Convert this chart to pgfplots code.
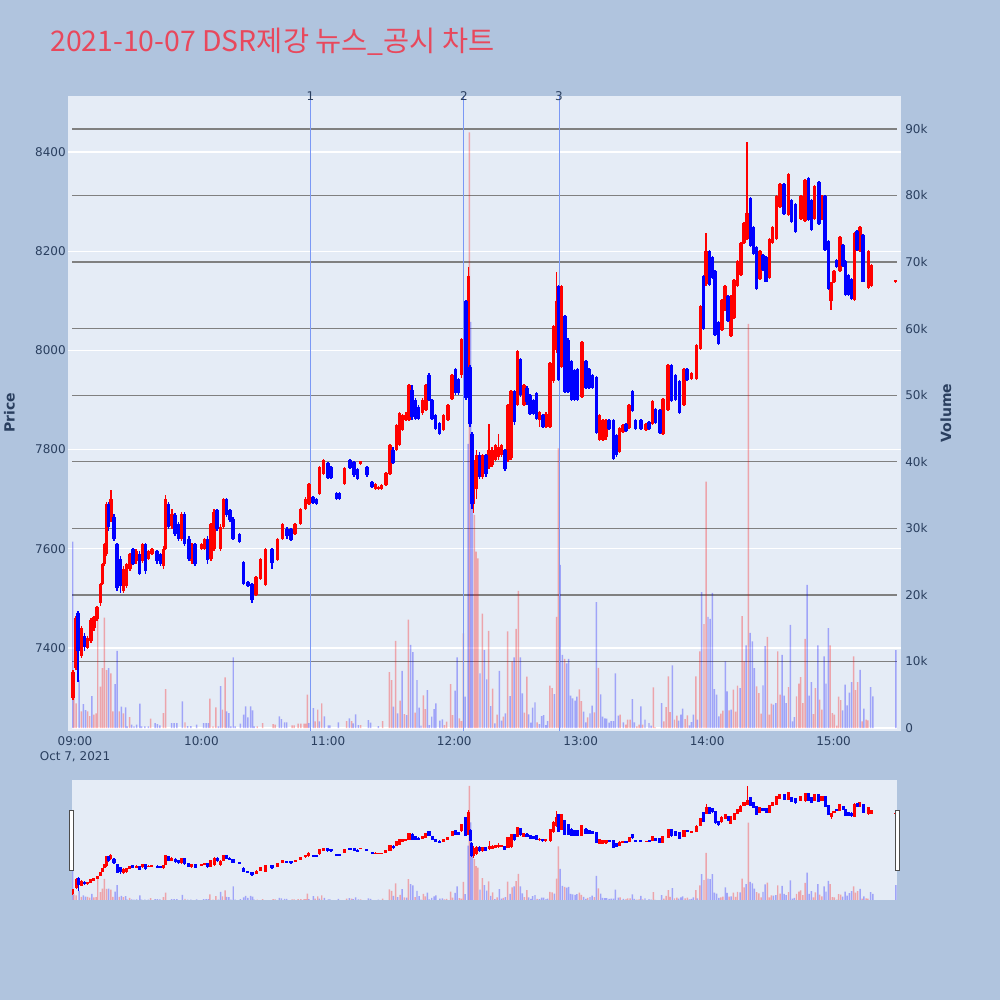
\documentclass[border=0pt]{standalone}
\usepackage{fontspec}
\setmainfont{DejaVu Sans}
\newfontfamily\krfont{Noto Sans CJK KR}
\usepackage{pgfplots}
\usepackage{pgfplotstable}
\pgfplotsset{compat=1.18}

\definecolor{bgc}{HTML}{B0C4DE}
\definecolor{plotbg}{HTML}{E5ECF6}
\definecolor{txt}{HTML}{2A3F5F}
\definecolor{gridg}{HTML}{808080}
\definecolor{ttl}{HTML}{E8485C}
\definecolor{evt}{HTML}{7A98F5}
\definecolor{upc}{HTML}{FF0000}
\definecolor{dnc}{HTML}{0000FF}

\newcommand\tickfont{\fontsize{9}{11.25}\selectfont}

% candles: #1 table, #2 colour, #3 body width, #4 wick width
\newcommand\candleset[4]{%
  \addplot[draw=none, forget plot, error bars/.cd, y dir=both, y explicit, error mark=none,
    error bar style={draw=#2, line width=#4}]
    table[x=t, y expr={(\thisrow{h}+\thisrow{l})/2}, y error expr={(\thisrow{h}-\thisrow{l})/2}] {#1};
  \addplot[draw=none, forget plot, error bars/.cd, y dir=both, y explicit, error mark=none,
    error bar style={draw=#2, line width=#3}]
    table[x=t, y expr={(\thisrow{o}+\thisrow{c})/2}, y error expr={abs(\thisrow{c}-\thisrow{o})/2}] {#1};
}

% minutes after 09:00, open high low close
\pgfplotstableread{
t o h l c
-1 7300 7355 7295 7352
0.5 7360 7465 7355 7460
3 7385 7445 7380 7440
6 7400 7425 7398 7420
7.5 7415 7460 7410 7456
9 7440 7465 7435 7462
10.5 7458 7485 7455 7483
12 7490 7532 7485 7530
13 7530 7572 7528 7570
14 7570 7612 7565 7610
15 7590 7695 7585 7690
17 7660 7718 7655 7700
23 7515 7565 7510 7560
24.5 7525 7572 7520 7570
26 7560 7592 7555 7590
29 7575 7600 7570 7595
32 7575 7612 7572 7610
35 7580 7598 7578 7595
36.5 7590 7602 7588 7600
42 7565 7605 7560 7600
43 7600 7708 7598 7700
46 7645 7680 7640 7670
50.5 7620 7675 7615 7670
55.5 7575 7612 7570 7610
60 7600 7612 7598 7610
61.5 7600 7622 7598 7620
64.5 7580 7652 7575 7650
66 7600 7680 7595 7675
69 7600 7650 7595 7645
70.5 7645 7702 7640 7700
86 7507 7545 7505 7543
88 7540 7582 7538 7580
90.5 7527 7602 7525 7600
96 7577 7622 7575 7620
98.5 7620 7652 7618 7650
104.5 7630 7652 7628 7650
107 7650 7682 7648 7680
109.5 7680 7705 7678 7700
111 7690 7732 7688 7730
116 7710 7767 7708 7765
118 7750 7782 7748 7780
128 7730 7765 7728 7763
135.5 7771 7777 7770 7777
142.5 7720 7732 7718 7730
144 7720 7726 7718 7724
145.5 7720 7730 7718 7728
147.5 7728 7754 7726 7752
149.5 7750 7812 7748 7810
152.5 7800 7852 7798 7850
154 7810 7875 7808 7873
155.5 7840 7872 7838 7870
157 7860 7875 7858 7870
158.5 7860 7932 7858 7930
165 7873 7905 7870 7900
166.5 7880 7932 7878 7930
175 7840 7872 7838 7870
177 7860 7892 7858 7890
179 7903 7952 7900 7950
183.5 7950 8025 7945 8022
186.7 7914 8169 7910 8150
189.2 7690 7803 7672 7780
190.5 7720 7800 7700 7790
193.5 7745 7792 7740 7790
196.5 7765 7851 7760 7800
198 7770 7805 7765 7800
199.5 7780 7812 7778 7810
201 7785 7831 7780 7805
202.5 7790 7812 7785 7810
205.5 7779 7892 7775 7890
207 7783 7920 7780 7918
210 7890 8000 7888 7998
213 7890 7932 7888 7930
220.5 7860 7878 7845 7875
223.5 7845 7875 7843 7872
225.5 7845 7976 7843 7974
227 7938 8052 7935 8050
228.5 8000 8159 7995 8100
231 7966 8131 7964 8129
240.5 7906 8020 7904 8018
249 7819 7872 7817 7870
250.5 7820 7862 7818 7860
252 7825 7862 7820 7858
258.5 7795 7845 7793 7843
260 7835 7852 7833 7850
263 7843 7892 7841 7890
271 7840 7853 7838 7852
274 7851 7900 7849 7898
279 7831 7904 7829 7902
281.5 7880 7972 7878 7970
289 7890 7964 7888 7962
292.5 7942 7956 7940 7954
295 7942 8012 7940 8010
296.8 8002 8092 8000 8090
299.5 8133 8237 8130 8200
307 8042 8104 8040 8102
308.5 8082 8132 8080 8130
311.3 8030 8112 8028 8110
312.8 8066 8143 8064 8141
314.5 8130 8183 8128 8181
316 8153 8219 8151 8217
317.5 8217 8259 8215 8257
319 8225 8420 8222 8277
325 8145 8203 8143 8201
329.5 8145 8227 8143 8225
331 8217 8251 8215 8249
333 8225 8314 8223 8312
334.5 8289 8338 8287 8336
338.5 8273 8358 8271 8356
344.5 8265 8314 8263 8312
346.5 8261 8346 8259 8344
351 8265 8334 8263 8332
354.5 8265 8314 8263 8312
358.8 8100 8139 8082 8137
360.2 8137 8163 8135 8161
363 8161 8231 8159 8229
370 8102 8239 8100 8237
372.5 8201 8251 8199 8249
376.5 8126 8203 8124 8201
378 8130 8175 8128 8173
389.5 8137 8142 8136 8142
}\upcandles

\pgfplotstableread{
t o h l c
1.5 7470 7475 7332 7395
4.5 7425 7430 7395 7402
16 7690 7695 7635 7645
18.5 7665 7670 7615 7620
20 7610 7612 7515 7520
21.5 7580 7585 7510 7525
27.5 7600 7602 7568 7570
30.5 7590 7595 7548 7550
33.5 7610 7612 7550 7555
39 7595 7598 7570 7575
40.5 7590 7592 7565 7570
44.5 7690 7695 7640 7645
47.5 7668 7672 7625 7630
49 7650 7655 7615 7620
52 7670 7675 7605 7610
54 7620 7625 7575 7580
57 7610 7612 7565 7570
63 7620 7625 7570 7578
67.5 7678 7680 7635 7640
72 7700 7702 7665 7668
73.5 7678 7680 7655 7658
75 7660 7665 7618 7620
78 7630 7632 7612 7614
80 7573 7575 7528 7530
82 7534 7536 7524 7526
84 7530 7532 7490 7496
93.5 7600 7602 7560 7572
100.5 7640 7645 7620 7625
102.5 7640 7642 7615 7617
113 7705 7707 7690 7692
114.5 7700 7702 7688 7690
120 7772 7776 7740 7742
121.5 7765 7767 7740 7742
124 7712 7714 7698 7700
125.5 7712 7714 7698 7700
130.5 7780 7782 7760 7762
132.5 7775 7777 7745 7748
134 7760 7762 7738 7740
138.5 7765 7767 7745 7748
141 7735 7737 7723 7725
151 7800 7805 7770 7772
160 7920 7930 7860 7865
161.5 7900 7905 7860 7862
163 7885 7890 7860 7862
168 7950 7955 7898 7900
169.5 7900 7902 7860 7862
171 7870 7872 7840 7842
173 7853 7855 7830 7832
180.5 7962 7965 7910 7915
182 7942 7945 7910 7915
185.5 8099 8102 7900 7905
187.5 7966 7970 7845 7851
188.3 7831 7835 7680 7690
192 7790 7795 7740 7745
195 7790 7792 7745 7750
204 7799 7802 7757 7760
208.5 7918 7920 7850 7855
211.5 7982 7985 7906 7910
214.5 7925 7928 7890 7895
216 7910 7912 7870 7872
217.5 7900 7902 7870 7872
219 7914 7916 7860 7862
222 7870 7872 7843 7845
229.5 8129 8132 7938 7940
232.5 8070 8072 7914 7916
234 8022 8025 7914 7916
235.5 7978 7980 7898 7900
237 7960 7962 7898 7900
238.5 7962 7965 7898 7900
242.5 7978 7980 7922 7924
244 7962 7964 7922 7924
245.5 7950 7952 7922 7925
247.5 7946 7948 7831 7833
253.5 7859 7861 7839 7841
255.5 7859 7861 7779 7782
257 7830 7832 7785 7790
261.5 7851 7853 7835 7837
264.5 7918 7920 7875 7877
266 7859 7861 7839 7841
268.5 7859 7861 7839 7841
272.5 7855 7857 7840 7842
275.5 7882 7884 7851 7853
277.6 7879 7881 7831 7833
283 7970 7972 7895 7897
285 7950 7952 7898 7900
287 7938 7940 7871 7873
290.5 7962 7964 7938 7940
298.2 8150 8152 8042 8044
301 8201 8203 8130 8132
302.5 8189 8191 8145 8147
303.8 8161 8163 8030 8032
305.5 8058 8060 8010 8012
310 8110 8112 8058 8060
320.5 8308 8310 8209 8211
322 8249 8251 8193 8195
323.5 8209 8211 8121 8123
326.5 8193 8195 8161 8163
328 8189 8191 8137 8139
336.5 8336 8338 8273 8275
340 8304 8306 8257 8259
342 8296 8298 8237 8239
348 8348 8350 8261 8263
349.5 8304 8306 8241 8243
353 8340 8342 8253 8255
356 8312 8314 8201 8203
357.5 8221 8223 8121 8123
361.5 8183 8185 8167 8169
364.5 8213 8215 8169 8171
365.7 8181 8183 8110 8112
367 8153 8155 8110 8112
368.5 8145 8147 8102 8104
371.2 8241 8243 8201 8203
374 8233 8235 8137 8139
}\dncandles

% volume per minute
\pgfplotstableread{
t v
-0.5 4500
0.5 3700
3 2500
6 2500
7 1800
9 2000
10 2200
10.8 16500
12 6200
13 9000
13.9 16600
15 8700
17 8200
18 2500
21 2500
23 2200
25.9 1650
35.9 1400
41.9 2250
43 5850
52.2 850
64 4400
65.5 250
66.9 3100
70 2750
71.2 7600
86.5 250
89 750
94 600
95 500
103 400
104 400
105.9 650
107.2 650
108.7 650
109.5 650
110.3 5000
114 1000
115.2 2750
117.1 3700
128.9 1050
131.3 1050
135.6 450
146 1050
149.2 8400
150.3 7200
152.2 13100
154.3 4100
156.3 2100
158.2 16300
161.4 2300
165.3 4900
166.3 2850
175.3 450
176.4 950
178.3 6600
179.2 1950
182.4 1450
183.4 1050
184.3 14200
187.2 89500
189.5 32000
190.4 26500
191.2 25500
193.3 17200
196.3 14600
198.2 5900
200.3 2000
203.3 1700
205.3 14500
207.4 10000
209.3 14900
210.4 20600
213.3 2300
214.4 7700
219.3 850
225.4 6350
226.4 6000
228.5 16700
229.4 42000
232.4 10400
239.4 5800
240.3 4050
243.3 1600
246.5 2350
248.4 9050
258.7 2000
261.4 500
262.3 1250
263.4 1250
266.6 250
267.7 500
269.4 500
274.5 6100
275.3 100
279.5 1000
280.5 3150
281.6 7750
282.4 2400
284.5 1250
285.6 1850
289.5 1350
290.6 1900
294.6 7750
296.5 11500
298.5 15600
299.5 37000
306.5 2150
307.5 2600
310.4 2650
312.4 5750
313.5 2450
314.4 6350
316.6 16800
317.5 10000
319.6 60700
323.5 6250
324.5 5250
325.6 2150
328.6 13700
329.5 2000
330.5 3650
333.5 11500
334.6 5000
338.6 6150
342.4 4750
343.5 6650
344.4 7650
345.4 3750
346.5 13400
350.4 2100
351.4 6000
353.4 4250
354.4 2750
358.4 12400
359.4 2250
360.4 2000
361.5 350
362.4 4700
363.4 4200
369.5 10750
370.4 5700
371.4 6900
373.5 1000
375.4 1250
376.3 1150
}\vup

\pgfplotstableread{
t v
-1.1 28000
2 7200
4 3600
5 2700
8 4800
16 9000
19 6600
20 11600
22 3200
24 3100
24.8 250
26.9 500
28 250
29.3 500
30.8 3650
31.6 250
33.2 250
34.8 250
38 750
39.1 600
40.3 400
45.9 750
47 750
48.3 750
51 4000
53.5 300
55 300
57.7 500
61 750
62.2 750
63.3 750
68 250
69.1 6300
72 2500
73 2250
74 250
75.1 10600
76 250
78.5 650
80 2000
81 3250
82 1600
83.4 3250
84.3 2650
85 250
97 1750
98 1350
99.5 850
100.5 850
111 750
113.1 3000
116 1000
118.3 1750
120.2 400
121 400
125 850
130.2 1450
132 700
133.2 2050
134.5 450
139.2 1200
140.3 800
144 300
151.1 3200
153.1 2200
155.2 8600
157.4 1950
159.3 12500
160.3 11400
162.3 7200
163.3 3050
164.2 350
167.2 5700
168.2 450
169.3 1700
170.4 2850
171.3 3700
173.2 1100
174.3 1300
180.4 5600
181.3 10600
185.1 4700
186.6 42700
187.8 61000
188.6 38000
192.2 8200
194.3 11700
195.4 7300
197.3 3300
199.3 700
201.4 8600
202.5 1100
204.2 2200
206.5 4800
208.4 10600
211.4 10600
212.3 5200
215.3 2050
216.3 800
217.2 3050
218.3 3850
220.4 600
221.5 1800
222.4 1950
223.5 450
224.3 1050
227.5 5100
230.2 24500
231.3 11000
233.3 9700
234.3 10400
235.2 4850
236.2 4450
237.3 4100
238.2 4700
241.4 2450
242.4 850
244.4 2200
245.4 3350
247.4 18900
249.5 5050
250.4 1700
251.5 1450
252.3 1400
253.5 800
254.4 1050
255.5 1050
256.4 8200
257.9 1850
260.2 850
264.5 4350
265.5 850
268.6 3250
270.5 1250
272.4 750
273.4 350
278.4 3750
283.5 9400
286.5 1100
287.5 2000
288.4 2900
291.6 400
292.5 900
293.5 2000
295.4 1250
297.4 20400
300.4 16700
301.4 16400
302.5 20300
303.4 5850
304.5 5000
305.6 1750
308.6 10000
309.5 5500
311.4 2750
315.6 6000
318.5 12400
320.4 14300
321.5 13000
322.4 9000
326.5 6400
327.5 12300
331.4 3500
332.6 3750
335.6 11000
336.5 4850
337.5 3750
339.5 15500
340.5 1000
341.4 1650
347.4 21500
348.4 4850
349.5 6900
352.5 12400
355.5 10750
356.4 6650
357.5 15000
364.3 2650
365.5 6500
366.4 3400
367.5 5300
368.6 6900
372.6 8750
374.4 2900
377.6 6150
378.6 4750
389.6 11700
}\vdn

\begin{document}
\begin{tikzpicture}
\fill[bgc] (0,0) rectangle (750pt,750pt);
\fill[plotbg] (51pt,201.75pt) rectangle (675.75pt,678pt);
\fill[plotbg] (54pt,75pt) rectangle (672.75pt,165pt);

\node[anchor=west, text=ttl, font=\krfont\fontsize{21.3}{26}\selectfont, inner sep=0pt]
  at (37.5pt,719pt) {2021-10-07 DSR제강 뉴스\_공시 차트};
\node[rotate=90, text=txt, font=\bfseries\fontsize{10.5}{12}\selectfont] at (7pt,440.25pt) {Price};
\node[rotate=90, text=txt, font=\bfseries\fontsize{10.5}{12}\selectfont] at (709.5pt,440.25pt) {Volume};

% price grid and time axis
\begin{axis}[at={(51pt,201.75pt)}, anchor=south west, scale only axis,
  width=624.75pt, height=476.25pt,
  xmin=-3.32, xmax=392, ymin=7232.7, ymax=8512.9,
  axis line style={draw=none}, tick style={draw=none},
  ytick={7400,7600,7800,8000,8200,8400},
  yticklabels={7400,7600,7800,8000,8200,8400},
  ymajorgrids, grid style={white, line width=0.9pt},
  xtick={0,60,120,180,240,300,360},
  xticklabels={{09:00\\Oct 7, 2021},10:00,11:00,12:00,13:00,14:00,15:00},
  tick label style={font=\tickfont, text=txt, inner sep=0pt},
  xticklabel style={align=center, anchor=north, yshift=-4pt},
  yticklabel style={anchor=east, xshift=-1.5pt},
]
\addplot[draw=none] coordinates {(0,7400)};
\end{axis}

% volume
\begin{axis}[at={(54pt,201.75pt)}, anchor=south west, scale only axis,
  width=618.75pt, height=476.25pt,
  xmin=-1.42, xmax=390.1, ymin=-450, ymax=94950,
  axis line style={draw=none}, tick style={draw=none},
  xtick=\empty, scaled y ticks=false,
  ytick={10000,20000,30000,40000,50000,60000,70000,80000,90000},
  yticklabels={10k,20k,30k,40k,50k,60k,70k,80k,90k},
  extra y ticks={0}, extra y tick labels={0},
  extra y tick style={major grid style={white, line width=1.2pt}},
  yticklabel pos=right,
  ymajorgrids, grid style={gridg, line width=1pt},
  tick label style={font=\tickfont, text=txt, inner sep=0pt},
  yticklabel style={anchor=west, xshift=6pt},
]
\addplot[ybar, bar width=1.1pt, bar shift=0pt, fill=upc, fill opacity=0.3, draw=none] table[x=t, y=v] {\vup};
\addplot[ybar, bar width=1.1pt, bar shift=0pt, fill=dnc, fill opacity=0.3, draw=none] table[x=t, y=v] {\vdn};
\end{axis}

% candles and news markers
\begin{axis}[at={(51pt,201.75pt)}, anchor=south west, scale only axis,
  width=624.75pt, height=476.25pt,
  xmin=-3.32, xmax=392, ymin=7232.7, ymax=8512.9,
  hide axis, clip mode=individual,
]
\addplot[draw=evt, line width=0.75pt] coordinates {(111.7,7232.7) (111.7,8512.9)};
\addplot[draw=evt, line width=0.75pt] coordinates {(184.6,7232.7) (184.6,8512.9)};
\addplot[draw=evt, line width=0.75pt] coordinates {(229.7,7232.7) (229.7,8512.9)};
\node[text=txt, font=\tickfont, inner sep=0pt] at (axis cs:111.7,8512.9) {1};
\node[text=txt, font=\tickfont, inner sep=0pt] at (axis cs:184.6,8512.9) {2};
\node[text=txt, font=\tickfont, inner sep=0pt] at (axis cs:229.7,8512.9) {3};
\candleset{\upcandles}{upc}{2.6pt}{1.1pt}
\candleset{\dncandles}{dnc}{2.6pt}{1.1pt}
\end{axis}

% range slider
\begin{axis}[at={(54pt,75pt)}, anchor=south west, scale only axis,
  width=618.75pt, height=90pt,
  xmin=-1.42, xmax=390.1, ymin=0, ymax=94200, hide axis]
\addplot[ybar, bar width=1.1pt, bar shift=0pt, fill=upc, fill opacity=0.3, draw=none] table[x=t, y=v] {\vup};
\addplot[ybar, bar width=1.1pt, bar shift=0pt, fill=dnc, fill opacity=0.3, draw=none] table[x=t, y=v] {\vdn};
\end{axis}
\begin{axis}[at={(54pt,75pt)}, anchor=south west, scale only axis,
  width=618.75pt, height=90pt,
  xmin=-1.42, xmax=390.1, ymin=7238, ymax=8482, hide axis]
\candleset{\upcandles}{upc}{2.3pt}{0.8pt}
\candleset{\dncandles}{dnc}{2.3pt}{0.8pt}
\end{axis}
\draw[fill=white, draw=black!70, line width=0.6pt] (52pt,97.5pt) rectangle (54.75pt,142.5pt);
\draw[fill=white, draw=black!70, line width=0.6pt] (671.5pt,97.5pt) rectangle (674.25pt,142.5pt);

\pgfresetboundingbox
\useasboundingbox (0,0) rectangle (750pt,750pt);
\end{tikzpicture}
\end{document}
